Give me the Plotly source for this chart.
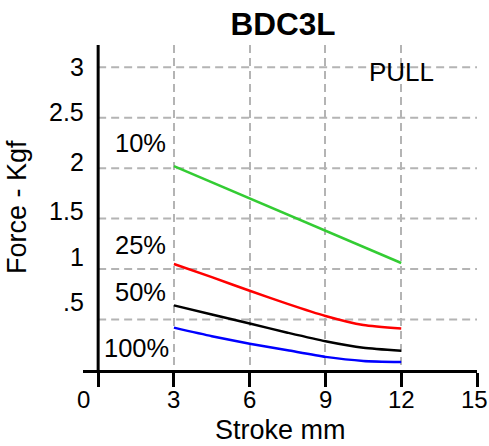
import plotly.graph_objects as go

# ---- data ----
stroke = [3, 4.5, 6, 7.5, 9, 10.5, 12]
force_25 = [1.05, 0.92, 0.785, 0.655, 0.535, 0.445, 0.41]
force_50 = [0.64, 0.55, 0.46, 0.37, 0.285, 0.22, 0.19]
force_100 = [0.42, 0.335, 0.26, 0.195, 0.13, 0.09, 0.08]
stroke_10 = [3, 12]
force_10 = [2.02, 1.06]

x_ticks = [0, 3, 6, 9, 12, 15]
x_labels = ["0", "3", "6", "9", "12", "15"]
x_label_pos = [-0.6, 3, 6, 9, 12, 15]
y_grid = [0.5, 1, 1.5, 2, 2.5, 3]
y_labels = ["3", "2.5", "2", "1.5", "1", ".5"]
y_label_pos = [3.0, 2.56, 2.06, 1.58, 1.12, 0.67]
series_labels = ["10%", "25%", "50%", "100%"]
series_label_pos = [2.25, 1.24, 0.77, 0.22]

FONT = "Liberation Sans, Arial, sans-serif"
GRID = "#b4b4b4"
W, H = 489, 446

fig = go.Figure()
fig.add_trace(go.Scatter(x=stroke_10, y=force_10, mode="lines",
                         line=dict(color="#33cc33", width=2.5)))
fig.add_trace(go.Scatter(x=stroke, y=force_25, mode="lines",
                         line=dict(color="#ff0000", width=2.5, shape="spline", smoothing=0.6)))
fig.add_trace(go.Scatter(x=stroke, y=force_50, mode="lines",
                         line=dict(color="#000000", width=2.5, shape="spline", smoothing=0.6)))
fig.add_trace(go.Scatter(x=stroke, y=force_100, mode="lines",
                         line=dict(color="#0000ff", width=2.5, shape="spline", smoothing=0.6)))

shapes = []
for g in y_grid:
    shapes.append(dict(type="line", xref="x", yref="y", x0=0, x1=15, y0=g, y1=g,
                       line=dict(color=GRID, width=2, dash="8px,5px"), layer="below"))
# y axis line at x = 0
shapes.append(dict(type="line", xref="x", yref="paper", x0=0, x1=0, y0=0, y1=1,
                   line=dict(color="black", width=3)))

annotations = []
for t, p in zip(y_labels, y_label_pos):
    annotations.append(dict(text=t, x=-0.48, y=p, xref="x", yref="y",
                            xanchor="right", yanchor="middle", showarrow=False,
                            font=dict(size=25, color="black", family=FONT)))
for t, p in zip(series_labels, series_label_pos):
    annotations.append(dict(text=t, x=2.9 if t == "100%" else 2.76, y=p, xref="x", yref="y",
                            xanchor="right", yanchor="middle", showarrow=False,
                            font=dict(size=25.5, color="black", family=FONT)))
for t, p in zip(x_labels, x_label_pos):
    annotations.append(dict(text=t, x=p, y=0, xref="x", yref="y", xanchor="center",
                            yanchor="middle", yshift=-29, xshift=-3 if t == "15" else 0,
                            showarrow=False,
                            font=dict(size=24, color="black", family=FONT)))
annotations.append(dict(text="PULL", x=12, y=2.95, xref="x", yref="y", xanchor="center",
                        yanchor="middle", showarrow=False,
                        font=dict(size=26, color="black", family=FONT)))
annotations.append(dict(text="Stroke mm", x=0.5, y=0, xref="paper", yref="paper",
                        xanchor="center", yanchor="middle", yshift=-60, showarrow=False,
                        font=dict(size=27, color="black", family=FONT)))
annotations.append(dict(text="Force - Kgf", x=0, y=0.5, xref="paper", yref="paper",
                        xanchor="center", yanchor="middle", xshift=-66.5, textangle=-90,
                        showarrow=False, font=dict(size=27, color="black", family=FONT)))

fig.update_layout(
    width=W, height=H,
    margin=dict(l=83, r=12, t=45, b=75.5),
    paper_bgcolor="white", plot_bgcolor="white",
    showlegend=False,
    hovermode=False,
    title=dict(text="<b>BDC3L</b>", x=283 / W, xanchor="center", y=1 - 24 / H,
               yanchor="middle", font=dict(size=31.5, color="black", family=FONT)),
    font=dict(family=FONT, color="black"),
    shapes=shapes, annotations=annotations,
    xaxis=dict(range=[-0.6, 15], tickvals=x_ticks, showticklabels=False,
               automargin=False,
               showline=True, linecolor="black", linewidth=3,
               ticks="outside", ticklen=14, tickwidth=3, tickcolor="black",
               showgrid=True, gridcolor=GRID, gridwidth=2, griddash="8px,5px",
               zeroline=False),
    yaxis=dict(range=[0, 3.22], showgrid=False, zeroline=False, showticklabels=False,
               automargin=False, ticks="", showline=False),
)

fig.write_html(
    "out.html",
    config={"displayModeBar": False, "staticPlot": True},
    post_script="document.body.style.margin='0';document.body.style.overflow='hidden';",
)
